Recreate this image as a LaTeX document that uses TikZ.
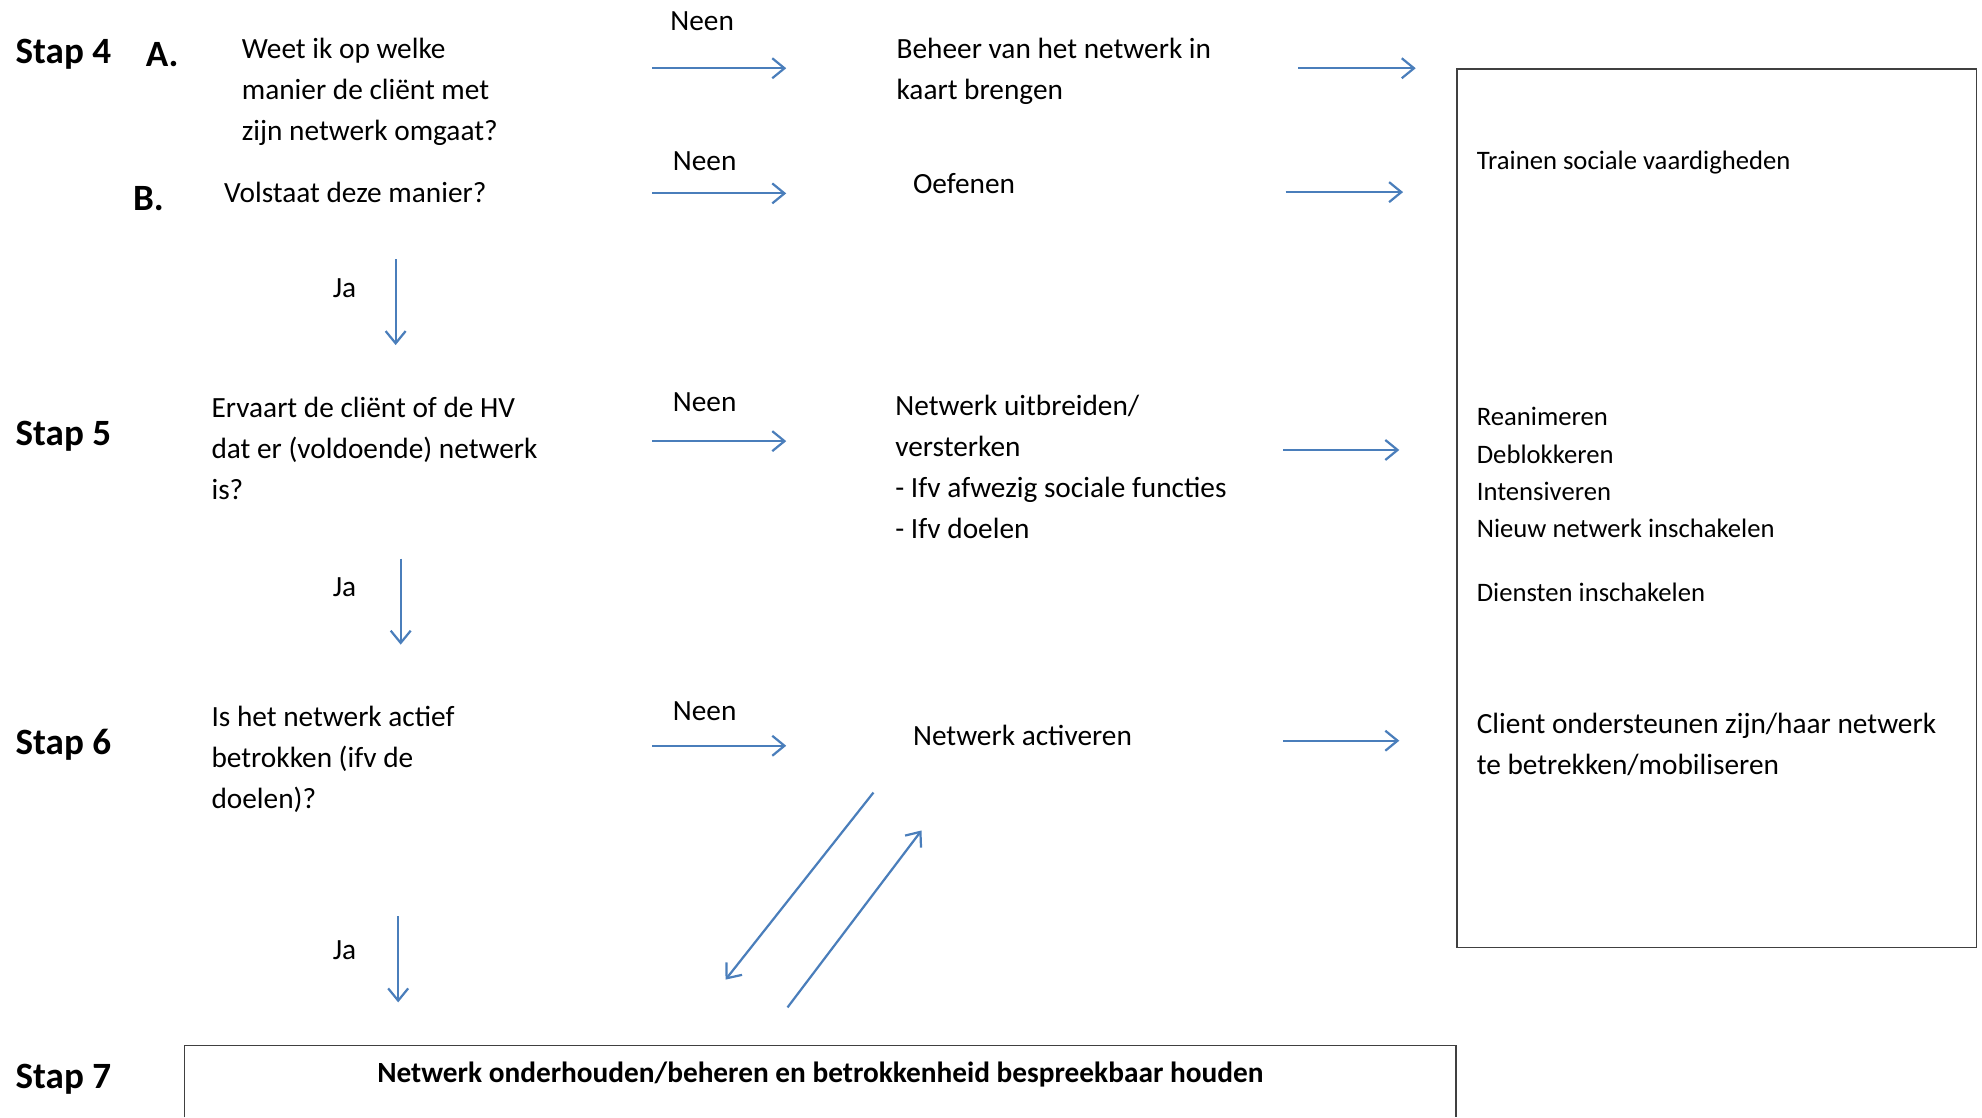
\documentclass[tikz,border=0pt]{standalone}
\usepackage{fontspec}
\setmainfont{Carlito}
\usetikzlibrary{positioning,arrows.meta}
\definecolor{pijlblauw}{RGB}{74,126,187}
\definecolor{kadergrijs}{RGB}{64,64,64}

\begin{document}
\begin{tikzpicture}[x=0.02cm,y=-0.02cm,
    stap/.style={anchor=west, inner sep=0pt, font=\fontsize{16.7}{20}\selectfont\bfseries},
    tekst/.style={anchor=north west, inner sep=0pt, align=left, font=\fontsize{13.2}{18.5}\selectfont},
    klein/.style={anchor=north west, inner sep=0pt, align=left, font=\fontsize{12}{16.8}\selectfont},
    pijl/.style={-{Straight Barb[length=5.5pt,width=9pt]}, pijlblauw, line width=1pt}]

    \useasboundingbox (0,0) rectangle (1568,884);

    % Stap 4
    \node[stap] (stap4) at (12,43) {Stap 4};
    \node[stap] (labelA) at (115,43) {A.};
    \node[tekst] (vraagA) at (191,30) {Weet ik op welke\\manier de cliënt met\\zijn netwerk omgaat?};
    \node[tekst] (neenA) at (530,9) {Neen};
    \node[tekst] (beheer) at (709,30) {Beheer van het netwerk in\\kaart brengen};

    \node[stap] (labelB) at (105,157) {B.};
    \node[tekst] (vraagB) at (177,144) {Volstaat deze manier?};
    \node[tekst] (neenB) at (532,120) {Neen};
    \node[tekst] (oefenen) at (722,137) {Oefenen};
    \node[tekst] (ja4) at (263,220) {Ja};

    % Stap 5
    \node[stap] (stap5) at (12,345) {Stap 5};
    \node[tekst] (vraag5) at (167,314) {Ervaart de cliënt of de HV\\dat er (voldoende) netwerk\\is?};
    \node[tekst] (neen5) at (532,310) {Neen};
    \node[tekst] (uitbreiden) at (708,312) {Netwerk uitbreiden/\\versterken\\- Ifv afwezig sociale functies\\- Ifv doelen};
    \node[tekst] (ja5) at (263,457) {Ja};

    % Stap 6
    \node[stap] (stap6) at (12,589) {Stap 6};
    \node[tekst] (vraag6) at (167,558) {Is het netwerk actief\\betrokken (ifv de\\doelen)?};
    \node[tekst] (neen6) at (532,555) {Neen};
    \node[tekst] (activeren) at (722,573) {Netwerk activeren};
    \node[tekst] (ja6) at (263,744) {Ja};

    % Stap 7
    \node[stap] (stap7) at (12,854) {Stap 7};
    \node[inner sep=0pt, font=\fontsize{13.2}{16}\selectfont\bfseries] (onderhoud) at (649,850) {Netwerk onderhouden/beheren en betrokkenheid bespreekbaar houden};
    \draw[kadergrijs, line width=0.7pt] (146,884) |- (1152,827) -- (1152,884);

    % kader rechts
    \node[draw=kadergrijs, line width=0.6pt, anchor=north west, inner sep=0pt, minimum width=8.22cm, minimum height=13.9cm] (kader) at (1152,54) {};
    \node[klein] (trainen) at (1168,119) {Trainen sociale vaardigheden};
    \node[klein] (reanimeren) at (1168,322) {Reanimeren\\Deblokkeren\\Intensiveren\\Nieuw netwerk inschakelen};
    \node[klein] (diensten) at (1168,461) {Diensten inschakelen};
    \node[tekst] (client) at (1168,564) {Client ondersteunen zijn/haar netwerk\\te betrekken/mobiliseren};

    % eindpunten van de pijlen
    \coordinate (uitA) at (516,54);   \coordinate (inA) at (622,54);
    \coordinate (uitB) at (516,153);  \coordinate (inB) at (622,153);
    \coordinate (uit5) at (516,349);  \coordinate (in5) at (622,349);
    \coordinate (uit6) at (516,590);  \coordinate (in6) at (622,590);
    \coordinate (naarA) at (1027,54); \coordinate (kaderA) at (1120,54);
    \coordinate (naarB) at (1017,152); \coordinate (kaderB) at (1110,152);
    \coordinate (naar5) at (1015,356); \coordinate (kader5) at (1107,356);
    \coordinate (naar6) at (1015,586); \coordinate (kader6) at (1107,586);
    \coordinate (jaA) at (313,205);   \coordinate (jaB) at (313,273);
    \coordinate (jaC) at (317,442);   \coordinate (jaD) at (317,510);
    \coordinate (jaE) at (315,725);   \coordinate (jaF) at (315,793);
    \coordinate (terugA) at (691,627); \coordinate (terugB) at (574,775);
    \coordinate (heenA) at (623,797);  \coordinate (heenB) at (729,657);

    % pijlen
    \draw[pijl] (uitA) -- (inA);
    \draw[pijl] (uitB) -- (inB);
    \draw[pijl] (uit5) -- (in5);
    \draw[pijl] (uit6) -- (in6);
    \draw[pijl] (naarA) -- (kaderA);
    \draw[pijl] (naarB) -- (kaderB);
    \draw[pijl] (naar5) -- (kader5);
    \draw[pijl] (naar6) -- (kader6);
    \draw[pijl] (jaA) -- (jaB);
    \draw[pijl] (jaC) -- (jaD);
    \draw[pijl] (jaE) -- (jaF);
    \draw[pijl] (terugA) -- (terugB);
    \draw[pijl] (heenA) -- (heenB);
\end{tikzpicture}
\end{document}
